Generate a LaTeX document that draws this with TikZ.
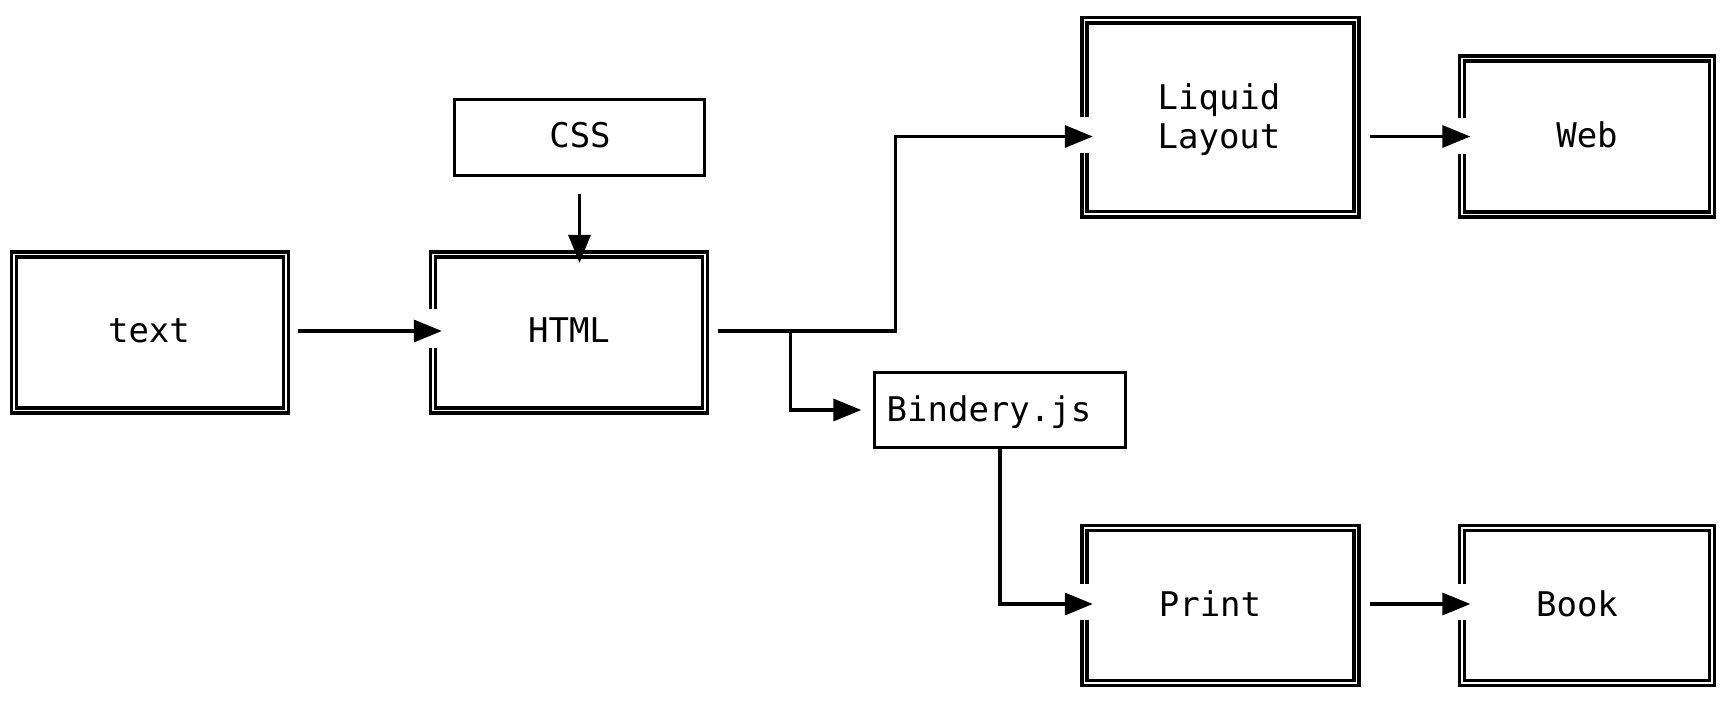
\documentclass[tikz,border=0pt]{standalone}
\usepackage{fontspec}
\newfontfamily\diagmono{DejaVu Sans Mono}
\usetikzlibrary{arrows.meta}
\begin{document}
\begin{tikzpicture}[x=1pt,y=1pt,
  dbox/.style={rectangle, draw, double, line width=3.3pt, double distance=1.8pt, inner sep=0pt},
  sbox/.style={rectangle, draw, line width=3.3pt, inner sep=0pt},
  lbl/.style={anchor=base, inner sep=0pt, font=\diagmono\fontsize{34}{39}\selectfont},
  conn/.style={line width=3.3pt, line join=miter, -{Triangle[length=28pt,width=22pt]}},
  gapfill/.style={fill=white, draw=none},
]
\useasboundingbox (0,0) rectangle (1725,-705);

% boxes
\node[dbox, minimum width=272pt, minimum height=156pt] (textbox) at (150,-332.5) {};
\node[dbox, minimum width=272pt, minimum height=156pt] (html) at (569,-332.5) {};
\node[sbox, minimum width=250pt, minimum height=76pt] (css) at (579.5,-137.5) {};
\node[dbox, minimum width=272pt, minimum height=194pt] (liquid) at (1220.5,-117.3) {};
\node[dbox, minimum width=250pt, minimum height=156pt] (web) at (1587,-136.5) {};
\node[sbox, minimum width=251pt, minimum height=75pt] (bindery) at (1000,-410) {};
\node[dbox, minimum width=272pt, minimum height=155pt] (print) at (1220.5,-605.5) {};
\node[dbox, minimum width=250pt, minimum height=155pt] (book) at (1587,-605.5) {};

% gaps in left borders where arrows enter
\fill[gapfill] ([shift={(-6,24)}]html.west) rectangle ([shift={(6,-15)}]html.west);
\fill[gapfill] ([shift={(-6,0)}]liquid.west) rectangle ([shift={(6,-36)}]liquid.west);
\fill[gapfill] ([shift={(-6,19)}]web.west) rectangle ([shift={(6,-17)}]web.west);
\fill[gapfill] ([shift={(-6,21.5)}]print.west) rectangle ([shift={(6,-14.5)}]print.west);
\fill[gapfill] ([shift={(-6,21.5)}]book.west) rectangle ([shift={(6,-14.5)}]book.west);

% helper coordinates
\coordinate (cssin) at (css.south |- html.north);
\coordinate (lin) at (liquid.west |- web.west);
\coordinate (lout) at (liquid.east |- web.west);
\coordinate (split) at ([xshift=83.5pt,yshift=1.5pt]html.east);

% connectors
\draw[conn] ([shift={(10.5,1.5)}]textbox.east) -- ([shift={(10.5,1.5)}]html.west);
\draw[conn] ([yshift=-16.5pt]css.south) -- ([yshift=-10pt]cssin);
\draw[conn] ([shift={(11.5,1.5)}]html.east) -- ++(177.5,0) |- ([xshift=10pt]lin);
\draw[conn] (split) |- ([xshift=-11.5pt]bindery.west);
\draw[conn] (bindery.south) |- ([shift={(10,1.5)}]print.west);
\draw[conn] ([xshift=11.5pt]lout) -- ([xshift=10pt]web.west);
\draw[conn] ([shift={(11.5,1.5)}]print.east) -- ([shift={(10,1.5)}]book.west);

% labels
\node[lbl] (ltext) at (149,-342) {text};
\node[lbl] (lhtml) at (569,-342) {HTML};
\node[lbl] (lcss) at (580,-147) {CSS};
\node[lbl] (lliquid) at (1219,-109) {Liquid};
\node[lbl] (llayout) at (1219,-148.5) {Layout};
\node[lbl] (lweb) at (1587,-147) {Web};
\node[lbl] (lbindery) at (989,-421.5) {Bindery.js};
\node[lbl] (lprint) at (1210,-616.5) {Print};
\node[lbl] (lbook) at (1577,-616.5) {Book};
\end{tikzpicture}
\end{document}
